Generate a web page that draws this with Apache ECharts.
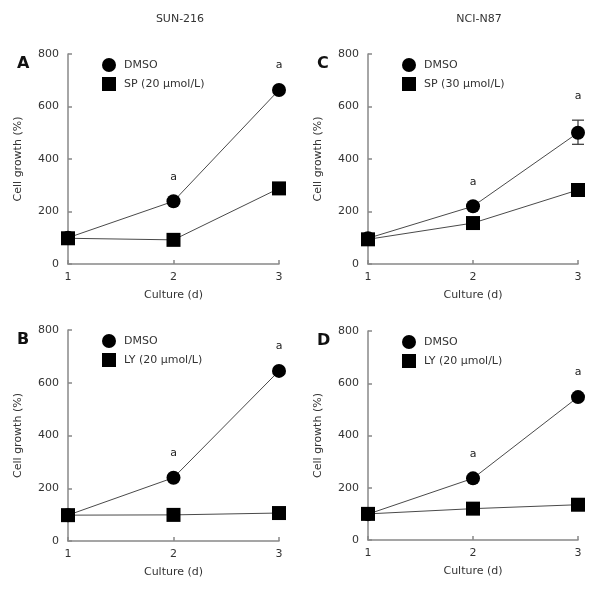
<!DOCTYPE html>
<html>
<head>
<meta charset="utf-8">
<script src="https://cdn.jsdelivr.net/npm/echarts@6/dist/echarts.min.js"></script>
<style>html,body{margin:0;padding:0;background:#fff}#c{width:600px;height:589px}</style>
</head>
<body>
<div id="c"></div>
<script>
// ---- data ----
var days = [1, 2, 3];
var xTicks = ['1', '2', '3'];
var yTicks = [0, 200, 400, 600, 800];
var colTitles = ['SUN-216', 'NCI-N87'];
var panelLetters = ['A', 'C', 'B', 'D'];

var dmsoA = [100, 239, 663];
var spA = [98, 92, 288];
var dmsoC = [98, 220, 500];
var spC = [94, 156, 282];
var dmsoB = [98, 240, 645];
var lyB = [98, 99, 106];
var dmsoD = [99, 236, 547];
var lyD = [100, 120, 135];

var errC = [null, null, [456, 548]];
var sigA = ['', 'a', 'a'];
var sigC = ['', 'a', 'a'];
var sigB = ['', 'a', 'a'];
var sigD = ['', 'a', 'a'];

var treatNames = ['SP (20 μmol/L)', 'SP (30 μmol/L)', 'LY (20 μmol/L)', 'LY (20 μmol/L)'];
var ctrlName = 'DMSO';

// ---- build ----
var FONT = 'DejaVu Sans';
var TXT = '#333';
var panels = [
  {grid: {left: 68, top: 54, width: 211, height: 210}, ctrl: dmsoA, trt: spA, err: [null, null, null], sig: sigA, trtName: treatNames[0]},
  {grid: {left: 368, top: 54, width: 210, height: 210}, ctrl: dmsoC, trt: spC, err: errC, sig: sigC, trtName: treatNames[1]},
  {grid: {left: 68, top: 330, width: 211, height: 211}, ctrl: dmsoB, trt: lyB, err: [null, null, null], sig: sigB, trtName: treatNames[2]},
  {grid: {left: 368, top: 331, width: 210, height: 209}, ctrl: dmsoD, trt: lyD, err: [null, null, null], sig: sigD, trtName: treatNames[3]}
];

var grids = [], xAxes = [], yAxes = [], series = [], legends = [], titles = [];

titles.push({text: colTitles[0], left: 175, top: 9, textAlign: 'center', textStyle: {fontFamily: FONT, fontSize: 11, fontWeight: 'normal', color: TXT}});
titles.push({text: colTitles[1], left: 474, top: 9, textAlign: 'center', textStyle: {fontFamily: FONT, fontSize: 11, fontWeight: 'normal', color: TXT}});

panels.forEach(function (p, i) {
  grids.push(p.grid);
  titles.push({text: panelLetters[i], left: p.grid.left - 56, top: p.grid.top - 3,
    textStyle: {fontFamily: FONT, fontSize: 16, fontWeight: 'bold', color: '#111'}});
  xAxes.push({
    type: 'value', gridIndex: i, min: 1, max: 3, interval: 1,
    name: 'Culture (d)', nameLocation: 'middle', nameGap: 26,
    nameTextStyle: {fontFamily: FONT, fontSize: 11, color: TXT},
    axisLine: {lineStyle: {color: '#888', width: 1.5}},
    axisTick: {inside: true, length: 4, lineStyle: {color: '#888', width: 1.5}},
    axisLabel: {fontFamily: FONT, fontSize: 11, color: TXT, margin: 8,
      formatter: function (v) { return xTicks[days.indexOf(v)] || ''; }},
    splitLine: {show: false}
  });
  yAxes.push({
    type: 'value', gridIndex: i, min: yTicks[0], max: yTicks[yTicks.length - 1], interval: yTicks[1] - yTicks[0],
    name: 'Cell growth (%)', nameLocation: 'middle', nameGap: 44,
    nameTextStyle: {fontFamily: FONT, fontSize: 11, color: TXT},
    axisLine: {lineStyle: {color: '#888', width: 1.5}},
    axisTick: {inside: true, length: 4, lineStyle: {color: '#888', width: 1.5}},
    axisLabel: {fontFamily: FONT, fontSize: 11, color: TXT, margin: 9},
    splitLine: {show: false}
  });
  var ctrlData = days.map(function (d, k) { return [d, p.ctrl[k]]; });
  var trtData = days.map(function (d, k) { return [d, p.trt[k]]; });
  series.push({
    type: 'line', name: ctrlName, xAxisIndex: i, yAxisIndex: i, data: ctrlData,
    symbol: 'circle', symbolSize: 14, itemStyle: {color: '#000'},
    lineStyle: {color: '#4a4a4a', width: 1}, z: 3, animation: false
  });
  series.push({
    type: 'line', name: p.trtName, xAxisIndex: i, yAxisIndex: i, data: trtData,
    symbol: 'rect', symbolSize: 14, itemStyle: {color: '#000'},
    lineStyle: {color: '#4a4a4a', width: 1}, z: 3, animation: false
  });
  var errData = [];
  days.forEach(function (d, k) { if (p.err[k]) errData.push([d, p.err[k][0], p.err[k][1]]); });
  if (errData.length) {
    series.push({
      type: 'custom', xAxisIndex: i, yAxisIndex: i, data: errData, z: 2, animation: false,
      encode: {x: 0, y: [1, 2]},
      renderItem: function (params, api) {
        var lo = api.coord([api.value(0), api.value(1)]);
        var hi = api.coord([api.value(0), api.value(2)]);
        var hw = 6;
        var st = {stroke: '#333', lineWidth: 1.2};
        return {type: 'group', children: [
          {type: 'line', shape: {x1: lo[0], y1: lo[1], x2: hi[0], y2: hi[1]}, style: st},
          {type: 'line', shape: {x1: lo[0] - hw, y1: lo[1], x2: lo[0] + hw, y2: lo[1]}, style: st},
          {type: 'line', shape: {x1: hi[0] - hw, y1: hi[1], x2: hi[0] + hw, y2: hi[1]}, style: st}
        ]};
      }
    });
  }
  var sigData = [];
  days.forEach(function (d, k) {
    if (p.sig[k]) {
      var anchor = p.err[k] ? p.err[k][1] : p.ctrl[k];
      sigData.push({value: [d, anchor], label: {formatter: p.sig[k]}});
    }
  });
  series.push({
    type: 'scatter', xAxisIndex: i, yAxisIndex: i, data: sigData, symbol: 'circle', symbolSize: 14,
    itemStyle: {color: 'rgba(0,0,0,0)'}, silent: true, animation: false, z: 4,
    label: {show: true, position: 'top', distance: 12, fontFamily: FONT, fontSize: 11,
      color: '#222', opacity: 1, textBorderWidth: 0}
  });
  legends.push({
    orient: 'vertical', left: p.grid.left + 29, top: p.grid.top - 1,
    itemWidth: 14, itemHeight: 14, itemGap: 5, selectedMode: false,
    textStyle: {fontFamily: FONT, fontSize: 11, color: TXT, padding: [0, 0, 0, 3]},
    data: [{name: ctrlName, icon: 'circle'}, {name: p.trtName, icon: 'rect'}]
  });
});

var chart = echarts.init(document.getElementById('c'), null, {renderer: 'canvas'});
chart.setOption({
  backgroundColor: '#fff',
  animation: false,
  title: titles,
  grid: grids,
  xAxis: xAxes,
  yAxis: yAxes,
  legend: legends,
  series: series
});
</script>
</body>
</html>
